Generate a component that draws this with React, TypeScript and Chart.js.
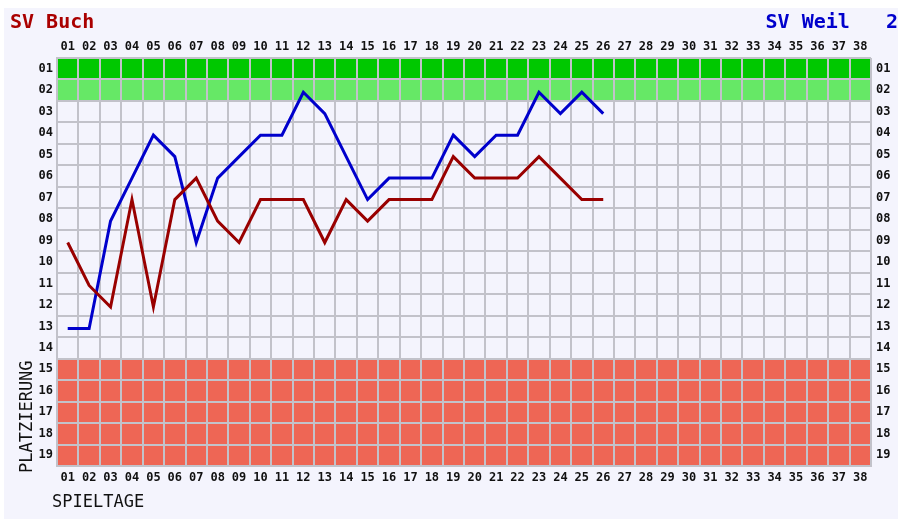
import { useEffect, useRef } from 'react';
import { Chart, registerables } from 'chart.js';

Chart.register(...registerables);

const matchdays = ['01','02','03','04','05','06','07','08','09','10','11','12','13','14','15','16','17','18','19','20','21','22','23','24','25','26','27','28','29','30','31','32','33','34','35','36','37','38'];
const rankLabels = ['01','02','03','04','05','06','07','08','09','10','11','12','13','14','15','16','17','18','19'];
const svBuch = [9, 11, 12, 7, 12, 7, 6, 8, 9, 7, 7, 7, 9, 7, 8, 7, 7, 7, 5, 6, 6, 6, 5, 6, 7, 7];
const svWeil2 = [13, 13, 8, 6, 4, 5, 9, 6, 5, 4, 4, 2, 3, 5, 7, 6, 6, 6, 4, 5, 4, 4, 2, 3, 2, 3];
const teamLeft = 'SV Buch';
const teamRight = 'SV Weil   2';
const yTitle = 'PLATZIERUNG';
const xTitle = 'SPIELTAGE';
// rank bands: [firstRank, lastRank, colour]
const bandRanks = [
  [1, 1, '#00c800'],
  [2, 2, '#66e866'],
  [15, 19, '#ee6655'],
] as const;

const MONO = '"DejaVu Sans Mono", "Liberation Mono", monospace';
const GRID = '#c2c2ca';

export default function App() {
  const ref = useRef<HTMLCanvasElement | null>(null);
  useEffect(() => {
    if (!ref.current) return;
    const rankTicks = (scale: any) => {
      scale.ticks = rankLabels.map((_, i) => ({ value: i + 1 }));
    };
    const bg = {
      id: 'bg',
      beforeDraw(chart: any) {
        const { ctx, chartArea, scales } = chart;
        ctx.save();
        ctx.fillStyle = '#ffffff';
        ctx.fillRect(0, 0, chart.width, chart.height);
        ctx.fillStyle = '#f4f4fd';
        ctx.fillRect(4, 8, chart.width - 4, chart.height - 8);
        const y = scales.y;
        for (const [a, b, c] of bandRanks) {
          const t = y.getPixelForValue(a - 0.5);
          const bt = y.getPixelForValue(b + 0.5);
          ctx.fillStyle = c;
          ctx.fillRect(chartArea.left, t, chartArea.right - chartArea.left, bt - t);
        }
        ctx.restore();
      },
      beforeDatasetsDraw(chart: any) {
        chart.ctx.save();
        chart.ctx.translate(0, 2);
      },
      afterDatasetsDraw(chart: any) {
        chart.ctx.restore();
      },
      afterDraw(chart: any) {
        const { ctx } = chart;
        ctx.save();
        ctx.font = `bold 20px ${MONO}`;
        ctx.textBaseline = 'alphabetic';
        ctx.fillStyle = '#aa0000';
        ctx.textAlign = 'left';
        ctx.fillText(teamLeft, 10, 28);
        ctx.fillStyle = '#0000cc';
        ctx.textAlign = 'right';
        ctx.fillText(teamRight, 898, 28);
        ctx.fillStyle = '#111111';
        ctx.font = `17px ${MONO}`;
        ctx.textAlign = 'left';
        ctx.fillText(xTitle, 52, 507);
        ctx.translate(32, 473);
        ctx.rotate(-Math.PI / 2);
        ctx.fillText(yTitle, 0, 0);
        ctx.restore();
      },
    };
    const tickFont = { family: MONO, size: 12, weight: 'bold' as const };
    const chart = new Chart(ref.current, {
      type: 'line',
      data: {
        labels: matchdays,
        datasets: [
          { label: teamLeft, data: svBuch, borderColor: '#990000', borderWidth: 3, pointRadius: 0, tension: 0 },
          { label: teamRight, data: svWeil2, borderColor: '#0000cc', borderWidth: 3, pointRadius: 0, tension: 0 },
        ],
      },
      options: {
        animation: false,
        responsive: false,
        layout: { padding: 0 },
        plugins: { legend: { display: false }, tooltip: { enabled: false } },
        scales: {
          x: {
            type: 'category',
            position: 'bottom',
            offset: true,
            grid: { offset: true, color: GRID, lineWidth: 2, drawTicks: false },
            border: { color: GRID, width: 2 },
            ticks: { font: tickFont, color: '#111', padding: 5, maxRotation: 0, autoSkip: false },
            afterFit: (s: any) => { s.height = 53; },
          },
          xTop: {
            type: 'category',
            position: 'top',
            offset: true,
            labels: matchdays,
            grid: { display: false, drawTicks: false },
            border: { display: false },
            ticks: { font: tickFont, color: '#111', padding: 4, maxRotation: 0, autoSkip: false },
            afterFit: (s: any) => { s.height = 58; },
          },
          y: {
            type: 'linear',
            position: 'left',
            reverse: true,
            min: 0.5,
            max: 19.5,
            afterBuildTicks: rankTicks,
            grid: { offset: true, color: GRID, lineWidth: 2, drawTicks: false },
            border: { color: GRID, width: 2 },
            ticks: { font: tickFont, color: '#111', padding: 4, callback: (v: any) => rankLabels[Number(v) - 1] },
            afterFit: (s: any) => { s.width = 57; },
          },
          yRight: {
            type: 'linear',
            position: 'right',
            reverse: true,
            min: 0.5,
            max: 19.5,
            afterBuildTicks: rankTicks,
            grid: { display: false, drawTicks: false },
            border: { display: false },
            ticks: { font: tickFont, color: '#111', padding: 5, callback: (v: any) => rankLabels[Number(v) - 1] },
            afterFit: (s: any) => { s.width = 27; },
          },
        },
      },
      plugins: [bg],
    });
    return () => chart.destroy();
  }, []);
  return (
    <div style={{ position: 'absolute', left: 0, top: 0, width: 898, height: 519 }}>
      <canvas ref={ref} width={898} height={519} style={{ width: 898, height: 519, display: 'block' }} />
    </div>
  );
}
